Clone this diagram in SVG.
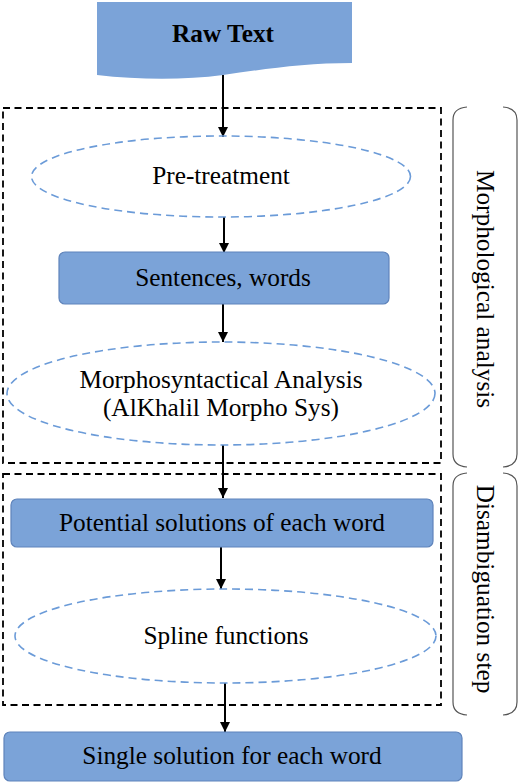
<svg xmlns="http://www.w3.org/2000/svg" width="520" height="783" viewBox="0 0 520 783">
<defs>
<style>
.t{font-family:'Liberation Serif',serif;font-size:25.3px;fill:#000;text-anchor:middle}
.b{font-weight:bold}
.fill{fill:#7BA3D8;stroke:#5F84BB;stroke-width:1.2}
.ell{fill:none;stroke:#6B9BD8;stroke-width:1.6;stroke-dasharray:8 5}
.dbox{fill:none;stroke:#000;stroke-width:1.8;stroke-dasharray:7 4.5}
.brk{fill:none;stroke:#555;stroke-width:1.2}
.arr{fill:none;stroke:#000;stroke-width:2;marker-end:url(#ah)}
</style>
<marker id="ah" markerUnits="userSpaceOnUse" markerWidth="10" markerHeight="10" refX="10" refY="5" orient="auto">
<path d="M0,0 L10,5 L0,10 Z" fill="#000"/>
</marker>
</defs>
<rect width="520" height="783" fill="#fff"/>

<g id="groups">
<rect id="box-morph" class="dbox" x="3" y="108" width="438" height="355"/>
<rect id="box-disamb" class="dbox" x="3" y="474" width="438" height="231"/>
</g>

<g id="brackets">
<g id="bracket-morph">
<path class="brk" d="M467,107 Q453,108 453,120 V454 Q453,466 467,467"/>
<path class="brk" d="M503,107 Q517,108 517,120 V454 Q517,466 503,467"/>
<text class="t" transform="translate(477,289) rotate(90)">Morphological analysis</text>
</g>
<g id="bracket-disamb">
<path class="brk" d="M467,473 Q453,474 453,486 V702 Q453,714 467,715"/>
<path class="brk" d="M503,473 Q517,474 517,486 V702 Q517,714 503,715"/>
<text class="t" transform="translate(477,589) rotate(90)">Disambiguation step</text>
</g>
</g>

<g id="connectors">
<line class="arr" x1="223" y1="75" x2="223" y2="137"/>
<line class="arr" x1="224" y1="217" x2="224" y2="253"/>
<line class="arr" x1="223" y1="304" x2="223" y2="342"/>
<line class="arr" x1="223" y1="445" x2="223" y2="498"/>
<line class="arr" x1="221" y1="547" x2="221" y2="589"/>
<line class="arr" x1="225" y1="683" x2="225" y2="732"/>
</g>

<g id="raw-text">
<path d="M97,2 H352 V63 C305,63 265,69 223,75 C185,80 140,80 97,75 Z" fill="#7BA3D8"/>
<text class="t b" x="223" y="42">Raw Text</text>
</g>

<g id="pre-treatment">
<ellipse class="ell" cx="221" cy="176.5" rx="189.5" ry="40.5"/>
<text class="t" x="221" y="184">Pre-treatment</text>
</g>

<g id="sentences">
<rect class="fill" x="59" y="252" width="330" height="52" rx="6"/>
<text class="t" x="223" y="286">Sentences, words</text>
</g>

<g id="morpho">
<ellipse class="ell" cx="221" cy="393.5" rx="214" ry="51.5"/>
<text class="t" x="221" y="388">Morphosyntactical Analysis</text>
<text class="t" x="221" y="416">(AlKhalil Morpho Sys)</text>
</g>

<g id="potential">
<rect class="fill" x="11" y="499" width="422" height="48" rx="6"/>
<text class="t" x="222" y="531">Potential solutions of each word</text>
</g>

<g id="spline">
<ellipse class="ell" cx="225.5" cy="636" rx="210.5" ry="47"/>
<text class="t" x="226" y="644">Spline functions</text>
</g>

<g id="single">
<rect class="fill" x="4" y="732" width="458" height="49" rx="6"/>
<text class="t" x="232" y="764">Single solution for each word</text>
</g>
</svg>
